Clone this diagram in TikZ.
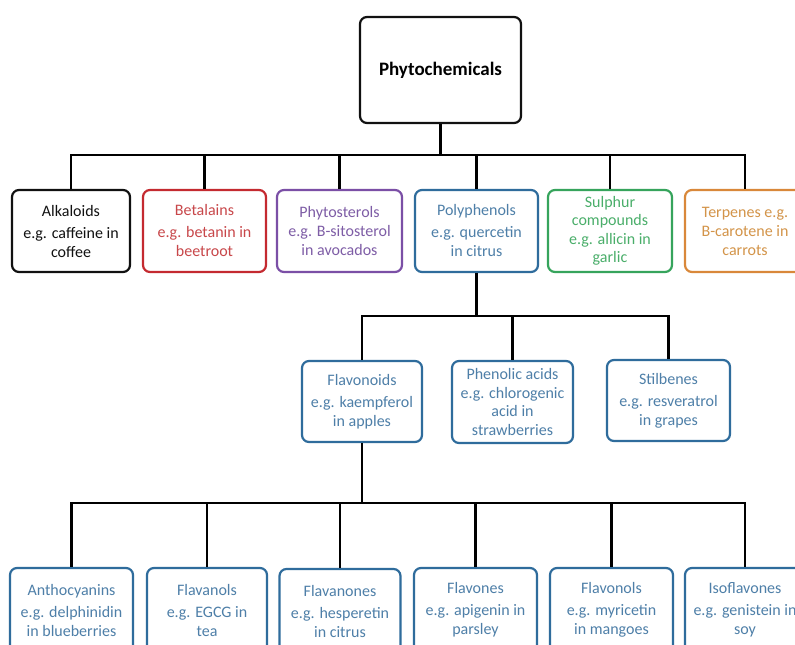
\documentclass[tikz,border=0pt]{standalone}
\usepackage{fontspec}
\setmainfont{Carlito}
\definecolor{cBlk}{HTML}{111111}
\definecolor{cRed}{HTML}{C42A30}
\definecolor{cRedT}{HTML}{C8474A}
\definecolor{cPur}{HTML}{7B4FA6}
\definecolor{cPurT}{HTML}{7E5DA6}
\definecolor{cBlu}{HTML}{2F6C9C}
\definecolor{cBluT}{HTML}{4E7FA8}
\definecolor{cGrn}{HTML}{36A45C}
\definecolor{cGrnT}{HTML}{4AAE6A}
\definecolor{cOrg}{HTML}{D9883A}
\definecolor{cOrgT}{HTML}{D39449}
\tikzset{
  box/.style={draw, rounded corners=7pt, line width=2.2pt, align=center,
    inner sep=0pt, font=\fontsize{16}{19}\selectfont},
  wire/.style={line width=2.6pt, draw=black},
}
\begin{document}
\begin{tikzpicture}[x=1pt, y=-1pt]
\useasboundingbox (0,0) rectangle (795,645);
\clip (0,0) rectangle (795,645);
\fill[white] (0,0) rectangle (795,645);

% root
\node[box, draw=cBlk, minimum width=161pt, minimum height=106pt,
  font=\fontsize{19}{22}\selectfont\bfseries] (root) at (440.5,70) {Phytochemicals};

% first level
\node[box, draw=cBlk, text=cBlk, minimum width=118pt, minimum height=82pt] (alk) at (71,231)
  {Alkaloids\\[3pt]e.g. caffeine in\\coffee};
\node[box, draw=cRed, text=cRedT, minimum width=123pt, minimum height=82pt] (bet) at (204.5,231)
  {Betalains\\[3pt]e.g. betanin in\\beetroot};
\node[box, draw=cPur, text=cPurT, minimum width=125pt, minimum height=82pt] (phs) at (339.5,231)
  {Phytosterols\\e.g. B-sitosterol\\in avocados};
\node[box, draw=cBlu, text=cBluT, minimum width=123pt, minimum height=82pt] (pol) at (476.5,231)
  {Polyphenols\\[3pt]e.g. quercetin\\in citrus};
\node[box, draw=cGrn, text=cGrnT, minimum width=124pt, minimum height=82pt,
  font=\fontsize{16}{18.5}\selectfont] (sul) at (610,231)
  {Sulphur\\compounds\\e.g. allicin in\\garlic};
\node[box, draw=cOrg, text=cOrgT, minimum width=120pt, minimum height=82pt] (ter) at (745,231)
  {Terpenes e.g.\\B-carotene in\\carrots};

% polyphenol classes
\node[box, draw=cBlu, text=cBluT, minimum width=120pt, minimum height=81pt] (flv) at (362,401.5)
  {Flavonoids\\[3pt]e.g. kaempferol\\in apples};
\node[box, draw=cBlu, text=cBluT, minimum width=121pt, minimum height=82pt,
  font=\fontsize{16}{18.5}\selectfont] (phe) at (512.5,402)
  {Phenolic acids\\e.g. chlorogenic\\acid in\\strawberries};
\node[box, draw=cBlu, text=cBluT, minimum width=123pt, minimum height=81pt] (sti) at (668.5,400.5)
  {Stilbenes\\[3pt]e.g. resveratrol\\in grapes};

% flavonoid subclasses
\node[box, draw=cBlu, text=cBluT, minimum width=123pt, minimum height=84pt] (ant) at (71.5,610)
  {Anthocyanins\\[3pt]e.g. delphinidin\\in blueberries};
\node[box, draw=cBlu, text=cBluT, minimum width=120pt, minimum height=84pt] (fla) at (207,610)
  {Flavanols\\[3pt]e.g. EGCG in\\tea};
\node[box, draw=cBlu, text=cBluT, minimum width=121pt, minimum height=84pt] (fln) at (340,611)
  {Flavanones\\[3pt]e.g. hesperetin\\in citrus};
\node[box, draw=cBlu, text=cBluT, minimum width=123pt, minimum height=84pt] (fvs) at (475.5,610)
  {Flavones\\[3pt]e.g. apigenin in\\parsley};
\node[box, draw=cBlu, text=cBluT, minimum width=123pt, minimum height=84pt] (fvl) at (611.5,610)
  {Flavonols\\[3pt]e.g. myricetin\\in mangoes};
\node[box, draw=cBlu, text=cBluT, minimum width=120pt, minimum height=84pt] (iso) at (745,610)
  {Isoflavones\\[3pt]e.g. genistein in\\soy};

% bus junctions
\coordinate (busA) at (440.5,155);
\coordinate (busB) at (476.5,316);
\coordinate (busC) at (362,503);

% connectors
\draw[wire] (root.south) -- (busA);
\foreach \n in {alk,bet,phs,pol,sul,ter}
  \draw[wire] (\n.north) |- (busA);
\draw[wire] (pol.south) -- (busB);
\foreach \n in {flv,phe,sti}
  \draw[wire] (\n.north) |- (busB);
\draw[wire] (flv.south) -- (busC);
\foreach \n in {ant,fla,fln,fvs,fvl,iso}
  \draw[wire] (\n.north) |- (busC);
\end{tikzpicture}
\end{document}
